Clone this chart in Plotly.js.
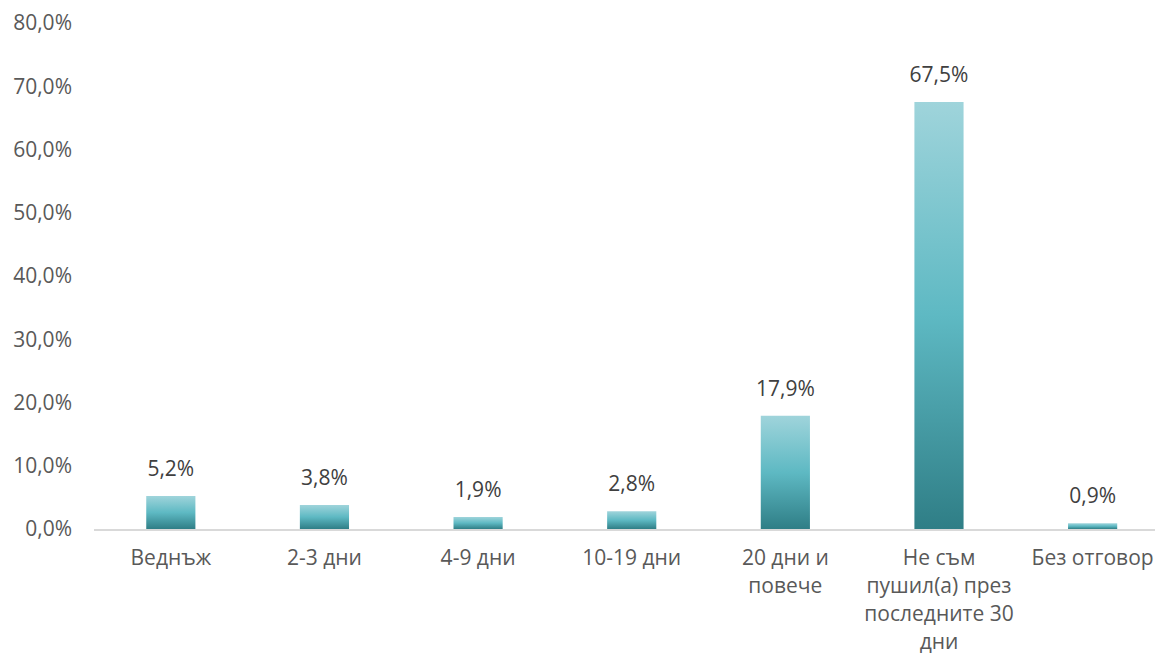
<!DOCTYPE html>
<html><head><meta charset="utf-8">
<script src="https://cdn.plot.ly/plotly-3.0.1.min.js"></script>
<style>html,body{margin:0;padding:0;background:#fff}#c{width:1155px;height:657px}</style>
</head><body><div id="c"></div>
<script>
const categories = ["Веднъж","2-3 дни","4-9 дни","10-19 дни","20 дни и<br>повече","Не съм<br>пушил(а) през<br>последните 30<br>дни","Без отговор"];
const values = [5.2, 3.8, 1.9, 2.8, 17.9, 67.5, 0.9];
const yTicks = [0,10,20,30,40,50,60,70,80];

const trace = {
  type:'bar', x:categories.map((c,i)=>i), y:values,
  width:0.32,
  marker:{color:'#5fb9c3'},
  text:values.map(v=>v.toFixed(1).replace('.',',')+'%'),
  textposition:'outside', cliponaxis:false, constraintext:'none',
  textfont:{family:'Open Sans, sans-serif', size:21, color:'#404040'},
  hoverinfo:'none'
};
const layout = {
  width:1155, height:657,
  margin:{l:94,r:0,t:23,b:128},
  paper_bgcolor:'#fff', plot_bgcolor:'#fff',
  separators:',.',
  showlegend:false,
  font:{family:'Open Sans, sans-serif', size:21, color:'#595959'},
  xaxis:{range:[-0.5,6.406], tickvals:categories.map((c,i)=>i), ticktext:categories,
    showgrid:false, zeroline:false, showline:true, linecolor:'#d9d9d9', linewidth:2,
    ticks:'', ticklabelstandoff:9, tickfont:{size:21,color:'#595959'}, fixedrange:true},
  yaxis:{range:[0,80], tickvals:yTicks, ticktext:yTicks.map(v=>v.toFixed(1).replace('.',',')+'%'),
    showgrid:false, zeroline:false, showline:false, ticks:'', ticklabelstandoff:21,
    tickfont:{size:21,color:'#595959'}, fixedrange:true}
};
Plotly.newPlot('c',[trace],layout,{staticPlot:true}).then(gd=>{
  const svg = gd.querySelector('svg.main-svg');
  const ns='http://www.w3.org/2000/svg';
  let defs = svg.querySelector('defs');
  if(!defs){defs=document.createElementNS(ns,'defs');svg.insertBefore(defs,svg.firstChild);}
  const g=document.createElementNS(ns,'linearGradient');
  g.setAttribute('id','barGrad');g.setAttribute('x1','0');g.setAttribute('y1','0');g.setAttribute('x2','0');g.setAttribute('y2','1');
  [['0','#9fd4db'],['0.5','#5eb9c3'],['1','#2f7e86']].forEach(([o,c])=>{
    const s=document.createElementNS(ns,'stop');s.setAttribute('offset',o);s.setAttribute('stop-color',c);g.appendChild(s);
  });
  defs.appendChild(g);
  gd.querySelectorAll('.bars .point path').forEach(p=>{p.style.fill='url(#barGrad)';});
  gd.querySelectorAll('.bars .point text').forEach(t=>{
    const tr=t.getAttribute('transform')||'';
    t.setAttribute('transform','translate(0,-11) '+tr);
  });
  gd.querySelectorAll('.xtick text tspan.line').forEach(ts=>{
    const dy=ts.getAttribute('dy');
    if(dy && parseFloat(dy)!==0) ts.setAttribute('dy', (parseFloat(dy)/1.3*1.33).toFixed(3)+'em');
  });
});
</script></body></html>
